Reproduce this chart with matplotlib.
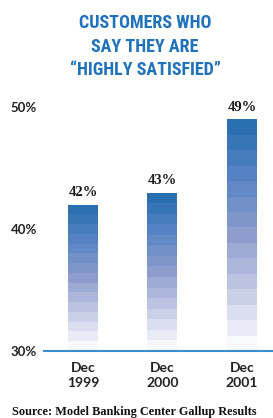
import numpy as np
import matplotlib.pyplot as plt
from matplotlib.colors import LinearSegmentedColormap
from matplotlib import font_manager

periods = ['Dec\n1999', 'Dec\n2000', 'Dec\n2001']
satisfied = [42, 43, 49]
y_ticks = [30, 40, 50]
y_tick_labels = ['30%', '40%', '50%']
title_lines = ['CUSTOMERS WHO', 'SAY THEY ARE', '\u201cHIGHLY SATISFIED\u201d']
source = 'Source: Model Banking Center Gallup Results'

installed = {f.name for f in font_manager.fontManager.ttflist}
title_font = 'Roboto'
for name in ['Roboto Condensed', 'DejaVu Sans Condensed', 'Liberation Sans Narrow',
             'Open Sans Condensed', 'Noto Sans Condensed']:
    if name in installed:
        title_font = name
        break

base = 30
n_stripes = 15
cmap = LinearSegmentedColormap.from_list(
    'stripes', ['#f8f9fc', '#c3c9e6', '#8e9dcd', '#5b86c5', '#2a6fb0'])

fig = plt.figure(figsize=(2.73, 4.18), dpi=100)
ax = fig.add_axes([44 / 273, 67 / 418, 229 / 273, 256 / 418])

x = np.arange(len(periods))
for i, v in enumerate(satisfied):
    step = (v - base) / n_stripes
    for k in range(n_stripes):
        ax.bar(x[i], step, bottom=base + k * step, width=0.377,
               color=cmap(k / (n_stripes - 1)), linewidth=0)
    ax.annotate(f'{v}%', (x[i], v), xytext=(0, 4), textcoords='offset points',
                ha='center', va='bottom', fontsize=10.5, fontweight='bold',
                family='Liberation Serif', color='#1a1a1a')

ax.set_xlim(-0.49, -0.49 + 229 / 79.5)
ax.set_ylim(base, 51)
ax.set_yticks(y_ticks)
ax.set_yticklabels(y_tick_labels, family='Lato', fontweight='bold',
                   fontsize=9.5, color='#222222')
ax.set_xticks(x)
ax.set_xticklabels(periods, family='Lato', fontweight='bold', fontsize=10,
                   color='#222222', linespacing=1.25)
ax.tick_params(length=0)
ax.tick_params(axis='y', pad=5)
ax.tick_params(axis='x', pad=8)
for s in ['top', 'right', 'left']:
    ax.spines[s].set_visible(False)
ax.spines['bottom'].set_color('#3b8fd0')
ax.spines['bottom'].set_linewidth(1.5)

title_size = 13 if title_font != 'Roboto' else 11
for j, line in enumerate(title_lines):
    fig.text(145 / 273, 1 - (23 + j * 23.5) / 418, line, ha='center',
             va='center', fontsize=title_size, fontweight='bold', color='#1f72bb',
             family=[title_font, 'DejaVu Sans'])

fig.text(134 / 273, 1 - 412 / 418, source, ha='center', va='center',
         fontsize=8.8, fontweight='bold', family='Liberation Serif',
         color='#111111')

fig.savefig('out.png', dpi=100)
